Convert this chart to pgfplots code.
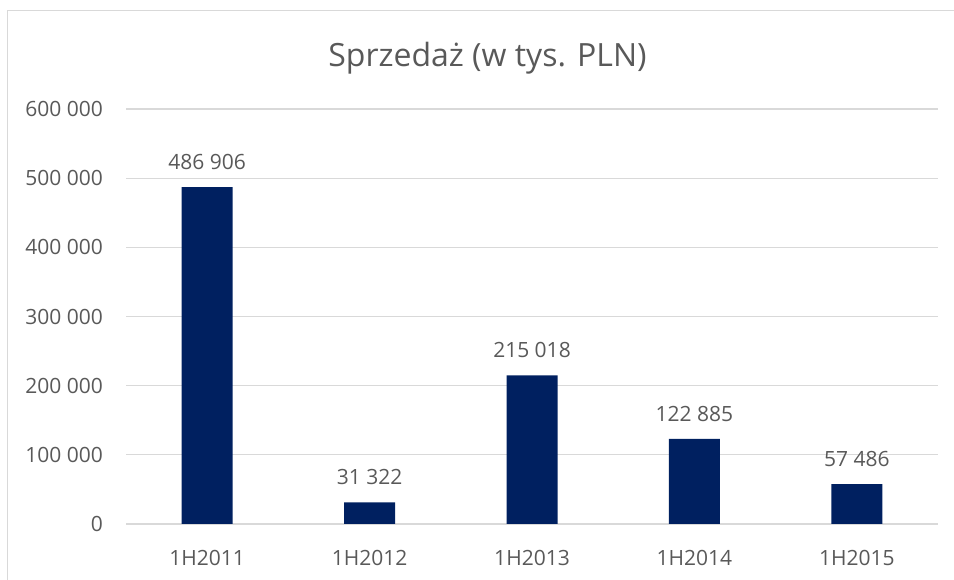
\documentclass[border=0pt]{standalone}
\usepackage{pgfplots}
\pgfplotsset{compat=1.18}
\usepackage{fontspec}
\setmainfont{Open Sans}
\definecolor{txt}{HTML}{595959}
\definecolor{gridc}{HTML}{D9D9D9}
\definecolor{barc}{RGB}{0,32,96}
\begin{document}
\begin{tikzpicture}[x=1bp,y=1bp]
\useasboundingbox (0,0) rectangle (954,580);
\draw[gridc, line width=1bp] (7.5,0) -- (7.5,569.5) -- (954,569.5);
\node[anchor=base, text=txt, inner sep=0pt, font=\fontsize{32bp}{39bp}\selectfont] at (487.5,513.5) {Sprzedaż (w tys. PLN)};
\begin{axis}[
  at={(126bp,56bp)}, anchor=south west,
  scale only axis, width=812bp, height=415bp,
  xmin=-0.5, xmax=4.5, ymin=0, ymax=600000,
  ybar, bar width=51bp,
  axis line style={draw=none},
  major tick length=0pt,
  ytick={0,100000,200000,300000,400000,500000,600000},
  yticklabels={0,100 000,200 000,300 000,400 000,500 000,600 000},
  scaled y ticks=false,
  xtick={0,1,2,3,4},
  xticklabels={1H2011,1H2012,1H2013,1H2014,1H2015},
  ymajorgrids=true, xmajorgrids=false,
  grid style={draw=gridc, line width=1.2bp},
  tick label style={text=txt, font=\fontsize{21bp}{25bp}\selectfont, inner sep=0pt},
  yticklabel style={anchor=east, xshift=-23bp},
  xticklabel style={anchor=north, yshift=-26bp},
  point meta=explicit symbolic,
  nodes near coords,
  every node near coord/.append style={anchor=south, inner sep=0pt, yshift=17bp, text=txt, font=\fontsize{21bp}{25bp}\selectfont},
]
\addplot[fill=barc, draw=none] coordinates {
  (0,486906) [486 906]
  (1,31322) [31 322]
  (2,215018) [215 018]
  (3,122885) [122 885]
  (4,57486) [57 486]
};
\end{axis}
\end{tikzpicture}
\end{document}
